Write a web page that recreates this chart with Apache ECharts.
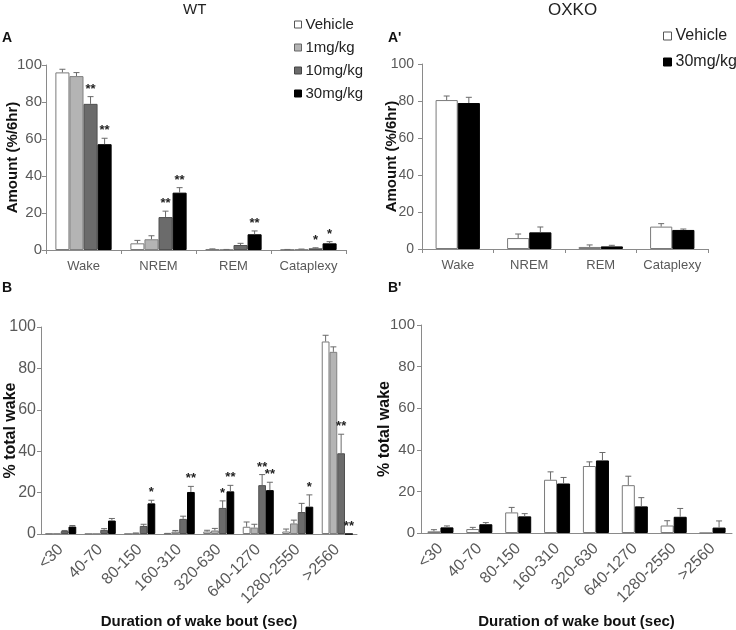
<!DOCTYPE html>
<html><head><meta charset="utf-8">
<script src="https://cdn.jsdelivr.net/npm/echarts@6/dist/echarts.min.js"></script>
<style>html,body{margin:0;padding:0;background:#fff}#c{width:736px;height:630px}</style>
</head><body><div id="c"></div>
<script>
// ---------- DATA ----------
const stateCats = ['Wake', 'NREM', 'REM', 'Cataplexy'];
const boutCats = ['<30', '40-70', '80-150', '160-310', '320-630', '640-1270', '1280-2550', '>2560'];
const groupsWT = ['Vehicle', '1mg/kg', '10mg/kg', '30mg/kg'];
const groupsKO = ['Vehicle', '30mg/kg'];

// Panel A (WT, amount %/6hr)
const wtAmtVehicle = [96, 3.6, 0.4, 0.2];
const wtAmtVehicleErr = [1.7, 1.6, 0.2, 0.1];
const wtAmt1 = [94, 5.8, 0.2, 0.4];
const wtAmt1Err = [1.9, 1.9, 0.1, 0.1];
const wtAmt10 = [79, 17.8, 2.7, 0.9];
const wtAmt10Err = [3.9, 3.2, 0.9, 0.3];
const wtAmt30 = [57.2, 31, 8.5, 3.6];
const wtAmt30Err = [3.2, 2.7, 1.8, 0.9];
const wtAmt10Sig = ['**', '**', '', '*'];
const wtAmt30Sig = ['**', '**', '**', '*'];

// Panel A' (OXKO, amount %/6hr)
const koAmtVehicle = [80.5, 5.9, 1.1, 12.1];
const koAmtVehicleErr = [2.2, 2.2, 1.1, 1.6];
const koAmt30 = [78.9, 9, 1.4, 10.3];
const koAmt30Err = [3.1, 2.9, 0.6, 0.5];

// Panel B (WT, % total wake by bout duration)
const wtBoutVehicle = [0.2, 0.1, 0.1, 0.2, 1.2, 3.5, 1.2, 93];
const wtBoutVehicleErr = [0, 0, 0, 0.1, 0.6, 2.3, 1.2, 3];
const wtBout1 = [0.2, 0.1, 0.4, 1.2, 1.7, 3.1, 5.1, 88];
const wtBout1Err = [0, 0, 0.1, 0.5, 1, 1.6, 1.6, 2.4];
const wtBout10 = [1.4, 2, 3.9, 7.3, 12.6, 23.6, 10.6, 39];
const wtBout10Err = [0.3, 0.6, 0.8, 1.3, 3.4, 5.1, 4.2, 9.2];
const wtBout30 = [3.6, 6.5, 14.8, 20.3, 20.6, 21.2, 13.2, 0];
const wtBout30Err = [0.5, 1, 1.5, 2.7, 2.9, 3.8, 5.7, 0];
const wtBout10Sig = ['', '', '', '', '*', '**', '', '**'];
const wtBout30Sig = ['', '', '*', '**', '**', '**', '*', '**'];

// Panel B' (OXKO, % total wake by bout duration)
const koBoutVehicle = [0.8, 1.9, 9.9, 25.6, 32.2, 23, 3.6, 0];
const koBoutVehicleErr = [0.8, 0.8, 2.4, 3.8, 2, 4.3, 2.3, 0];
const koBout30 = [2.7, 4.2, 8, 23.8, 34.9, 12.8, 7.8, 2.6];
const koBout30Err = [0.7, 0.8, 1.3, 2.9, 3.8, 4.2, 4, 3.2];

// ---------- STYLE ----------
const FONT = 'Liberation Sans';
const stWhite = { color: '#ffffff', borderColor: '#7a7a7a', borderWidth: 1 };
const stLight = { color: '#b4b4b4', borderColor: '#808080', borderWidth: 1 };
const stDark = { color: '#6b6b6b', borderColor: '#505050', borderWidth: 1 };
const stBlack = { color: '#000000', borderColor: '#000000', borderWidth: 1 };
const axisGray = '#8a8a8a';
const labelGray = '#595959';

const series = [];
function makeRender(k, n, gap, errArr, sigArr) {
  return function (params, api) {
    const i = params.dataIndex;
    const v = api.value(1);
    const e = errArr[i];
    const base = api.coord([i, v]);
    const catW = api.size([1, 0])[0];
    const bw = catW * (1 - gap) / n;
    const x = base[0] + (k - (n - 1) / 2) * bw;
    const top = api.coord([i, v + e])[1];
    const ch = [];
    if (e > 0) {
      ch.push({ type: 'line', shape: { x1: x, y1: base[1], x2: x, y2: top }, style: { stroke: '#6a6a6a', lineWidth: 1 } });
      ch.push({ type: 'line', shape: { x1: x - 3, y1: top, x2: x + 3, y2: top }, style: { stroke: '#6a6a6a', lineWidth: 1 } });
    }
    const s = sigArr ? sigArr[i] : '';
    if (s) {
      ch.push({ type: 'text', style: { text: s, x: x, y: top - 1, align: 'center', verticalAlign: 'bottom', font: 'bold 13px "' + FONT + '"', fill: '#222' } });
    }
    return { type: 'group', children: ch };
  };
}
function buildPanel(g, names, vals, errs, sigs, styles, gap) {
  const n = names.length;
  names.forEach(function (nm, k) {
    series.push({
      type: 'bar', name: nm, xAxisIndex: g, yAxisIndex: g, data: vals[k],
      barGap: '0%', barCategoryGap: (gap * 100) + '%', itemStyle: styles[k], silent: true, animation: false
    });
    series.push({
      type: 'custom', xAxisIndex: g, yAxisIndex: g, z: 5, silent: true, animation: false, clip: false,
      data: vals[k].map(function (v, i) { return [i, v]; }),
      renderItem: makeRender(k, n, gap, errs[k], sigs[k])
    });
  });
}

buildPanel(0, groupsWT, [wtAmtVehicle, wtAmt1, wtAmt10, wtAmt30],
  [wtAmtVehicleErr, wtAmt1Err, wtAmt10Err, wtAmt30Err],
  [null, null, wtAmt10Sig, wtAmt30Sig], [stWhite, stLight, stDark, stBlack], 0.25);
buildPanel(1, groupsKO, [koAmtVehicle, koAmt30], [koAmtVehicleErr, koAmt30Err],
  [null, null], [stWhite, stBlack], 0.38);
buildPanel(2, groupsWT, [wtBoutVehicle, wtBout1, wtBout10, wtBout30],
  [wtBoutVehicleErr, wtBout1Err, wtBout10Err, wtBout30Err],
  [null, null, wtBout10Sig, wtBout30Sig], [stWhite, stLight, stDark, stBlack], 0.215);
buildPanel(3, groupsKO, [koBoutVehicle, koBout30], [koBoutVehicleErr, koBout30Err],
  [null, null], [stWhite, stBlack], 0.33);

function xAx(g, cats, opt) {
  return Object.assign({
    type: 'category', gridIndex: g, data: cats,
    axisLine: { lineStyle: { color: axisGray, width: 1 } },
    axisTick: { show: false },
    splitLine: { show: false },
    nameMoveOverlap: false,
    axisLabel: { color: labelGray, fontFamily: FONT, fontSize: 13, margin: 10, interval: 0 }
  }, opt);
}
function yAx(g, opt) {
  return Object.assign({
    type: 'value', gridIndex: g, min: 0, max: 100, interval: 20,
    axisLine: { show: true, lineStyle: { color: axisGray, width: 1 } },
    axisTick: { show: true, length: 4, lineStyle: { color: axisGray } },
    splitLine: { show: false },
    nameLocation: 'middle', nameRotate: 90, nameMoveOverlap: false,
    nameTextStyle: { fontFamily: FONT, fontWeight: 'bold', fontSize: 15, color: '#111' }
  }, opt);
}

const option = {
  animation: false,
  backgroundColor: '#ffffff',
  grid: [
    { left: 46, top: 65, width: 300, height: 185, outerBoundsMode: 'none' },
    { left: 422, top: 64, width: 286, height: 185, outerBoundsMode: 'none' },
    { left: 41, top: 327, width: 316, height: 207, outerBoundsMode: 'none' },
    { left: 421, top: 325, width: 311, height: 208, outerBoundsMode: 'none' }
  ],
  xAxis: [
    xAx(0, stateCats, { axisTick: { show: true, length: 4, lineStyle: { color: axisGray } } }),
    xAx(1, stateCats, { axisTick: { show: true, length: 4, lineStyle: { color: axisGray } } }),
    xAx(2, boutCats, {
      axisLabel: { color: labelGray, fontFamily: FONT, fontSize: 16, rotate: 45, margin: 13, interval: 0 },
      name: 'Duration of wake bout (sec)', nameLocation: 'middle', nameGap: 80,
      nameTextStyle: { fontFamily: FONT, fontWeight: 'bold', fontSize: 15, color: '#111' }
    }),
    xAx(3, boutCats, {
      axisLabel: { color: labelGray, fontFamily: FONT, fontSize: 16, rotate: 45, margin: 13, interval: 0 },
      name: 'Duration of wake bout (sec)', nameLocation: 'middle', nameGap: 81,
      nameTextStyle: { fontFamily: FONT, fontWeight: 'bold', fontSize: 15, color: '#111' }
    })
  ],
  yAxis: [
    yAx(0, { name: 'Amount (%/6hr)', nameGap: 26, axisLabel: { color: labelGray, fontFamily: FONT, fontSize: 15, margin: 4 } }),
    yAx(1, { name: 'Amount (%/6hr)', nameGap: 23, axisLabel: { color: labelGray, fontFamily: FONT, fontSize: 14, margin: 8 } }),
    yAx(2, { name: '% total wake', nameGap: 22, nameTextStyle: { fontFamily: FONT, fontWeight: 'bold', fontSize: 16, color: '#111' },
      axisLabel: { color: labelGray, fontFamily: FONT, fontSize: 16, margin: 5 } }),
    yAx(3, { name: '% total wake', nameGap: 28, nameTextStyle: { fontFamily: FONT, fontWeight: 'bold', fontSize: 16, color: '#111' },
      axisLabel: { color: labelGray, fontFamily: FONT, fontSize: 15, margin: 6 } })
  ],
  legend: [
    {
      orient: 'vertical', left: 294, top: 17, padding: 0, itemWidth: 7, itemHeight: 7, itemGap: 8, selectedMode: false,
      icon: 'rect', textStyle: { fontFamily: FONT, fontSize: 15, color: '#222', padding: [0, 0, 0, -1] },
      data: [
        { name: groupsWT[0], itemStyle: { color: '#fff', borderColor: '#555', borderWidth: 1 } },
        { name: groupsWT[1], itemStyle: { color: '#b4b4b4', borderColor: '#666', borderWidth: 1 } },
        { name: groupsWT[2], itemStyle: { color: '#6b6b6b', borderColor: '#444', borderWidth: 1 } },
        { name: groupsWT[3], itemStyle: { color: '#000', borderColor: '#000', borderWidth: 1 } }
      ]
    },
    {
      orient: 'vertical', left: 663, top: 28, padding: 0, itemWidth: 8, itemHeight: 8, itemGap: 10, selectedMode: false,
      icon: 'rect', textStyle: { fontFamily: FONT, fontSize: 16, color: '#222', padding: [0, 0, 0, -1] },
      data: [
        { name: groupsKO[0], itemStyle: { color: '#fff', borderColor: '#555', borderWidth: 1 } },
        { name: groupsKO[1], itemStyle: { color: '#000', borderColor: '#000', borderWidth: 1 } }
      ]
    }
  ],
  graphic: [
    { type: 'text', left: 183, top: 2, style: { text: 'WT', font: '15px "' + FONT + '"', fill: '#222' } },
    { type: 'text', left: 548, top: 2, style: { text: 'OXKO', font: '17px "' + FONT + '"', fill: '#222' } },
    { type: 'text', left: 2, top: 31, style: { text: 'A', font: 'bold 14px "' + FONT + '"', fill: '#111' } },
    { type: 'text', left: 388, top: 31, style: { text: "A'", font: 'bold 14px "' + FONT + '"', fill: '#111' } },
    { type: 'text', left: 2, top: 281, style: { text: 'B', font: 'bold 14px "' + FONT + '"', fill: '#111' } },
    { type: 'text', left: 388, top: 281, style: { text: "B'", font: 'bold 14px "' + FONT + '"', fill: '#111' } }
  ],
  series: series
};
const chart = echarts.init(document.getElementById('c'), null, { renderer: 'canvas' });
chart.setOption(option);
</script>
</body></html>
